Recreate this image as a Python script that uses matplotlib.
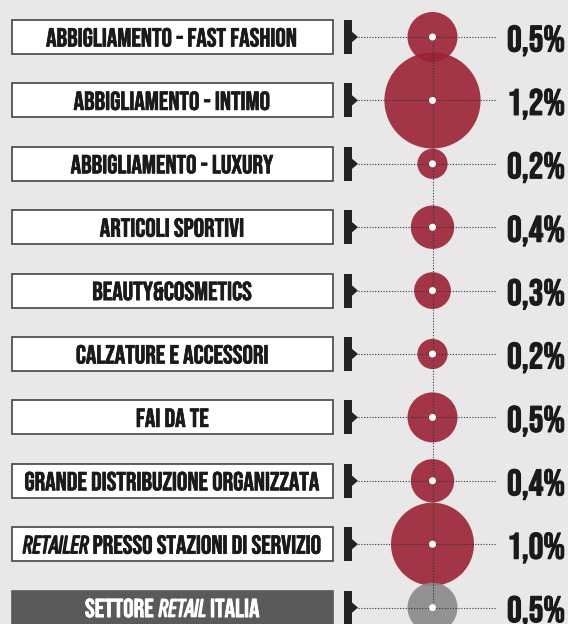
import matplotlib.pyplot as plt
import matplotlib.patheffects as pe
from matplotlib.patches import Circle, Rectangle, Polygon

# label pieces: (text, italic)
categories = [
    [("ABBIGLIAMENTO - FAST FASHION", False)],
    [("ABBIGLIAMENTO - INTIMO", False)],
    [("ABBIGLIAMENTO - LUXURY", False)],
    [("ARTICOLI SPORTIVI", False)],
    [("BEAUTY&COSMETICS", False)],
    [("CALZATURE E ACCESSORI", False)],
    [("FAI DA TE", False)],
    [("GRANDE DISTRIBUZIONE ORGANIZZATA", False)],
    [("RETAILER", True), (" PRESSO STAZIONI DI SERVIZIO", False)],
    [("SETTORE ", False), ("RETAIL", True), (" ITALIA", False)],
]
values = [0.5, 1.2, 0.2, 0.4, 0.3, 0.2, 0.5, 0.4, 1.0, 0.5]
labels = ["0,5%", "1,2%", "0,2%", "0,4%", "0,3%", "0,2%", "0,5%", "0,4%", "1,0%", "0,5%"]

bg = "#E9E7E8"
red = "#9B2335"
grey = "#8A8888"
dark = "#222423"
font = "Bebas Neue"
ifont = "Sofia Sans Extra Condensed"

fig = plt.figure(figsize=(5.68, 6.24), dpi=100, facecolor=bg)
ax = fig.add_axes([0, 0, 1, 1])
ax.set_xlim(0, 568)
ax.set_ylim(624, 0)
ax.set_facecolor(bg)
ax.axis("off")
renderer = fig.canvas.get_renderer()

ys = [37 + 63.4 * i for i in range(len(values))]
cx = 432.5

ax.plot([cx, cx], [ys[0], ys[-1]], color="#333333", ls=(0, (1, 1.5)), lw=0.8, zorder=3)


def put_label(pieces, xc, y, color):
    arts = []
    for s, it in pieces:
        if it:
            t = ax.text(0, y, s, ha="left", va="center_baseline", fontsize=19,
                        family=ifont, style="italic", weight="bold", color=color, zorder=4,
                        path_effects=[pe.withStroke(linewidth=1.1, foreground=color)])
        else:
            t = ax.text(0, y, s, ha="left", va="center_baseline", fontsize=18.8,
                        family=font, color=color, zorder=4,
                        path_effects=[pe.withStroke(linewidth=0.5, foreground=color)])
        arts.append(t)
    widths = [a.get_window_extent(renderer).width for a in arts]
    x = xc - sum(widths) / 2
    for a, w in zip(arts, widths):
        a.set_x(x)
        x += w


for i, (cat, v, lab, y) in enumerate(zip(categories, values, labels, ys)):
    last = i == len(values) - 1
    ax.add_patch(Rectangle((12, y - 17), 321, 34,
                           facecolor="#5A5A5A" if last else "white",
                           edgecolor="#5A5A5A" if last else "#444444", lw=1.2, zorder=2))
    put_label(cat, 172.5, y, "white" if last else "#1a1a1a")
    ax.add_patch(Rectangle((344, y - 17), 7.5, 34, facecolor=dark, edgecolor="none", zorder=2))
    ax.add_patch(Polygon([[351, y - 6], [358, y], [351, y + 6]], closed=True,
                         facecolor=dark, edgecolor="none", zorder=2))
    ax.plot([358, 496], [y, y], color="#333333", ls=(0, (1, 1.5)), lw=0.8, zorder=3)
    r = 8.5 + 33 * v
    ax.add_patch(Circle((cx, y), r, facecolor=grey if last else red, alpha=0.9,
                        edgecolor="none", zorder=2))
    ax.add_patch(Circle((cx, y), 3.5, facecolor="white", edgecolor="none", zorder=5))
    ax.text(507, y + 1.5, lab, ha="left", va="center_baseline", fontsize=26.5,
            family=font, color="#1a1a1a", zorder=4,
            path_effects=[pe.withStroke(linewidth=0.8, foreground="#1a1a1a")])

fig.savefig("out.png", dpi=100, facecolor=bg)
